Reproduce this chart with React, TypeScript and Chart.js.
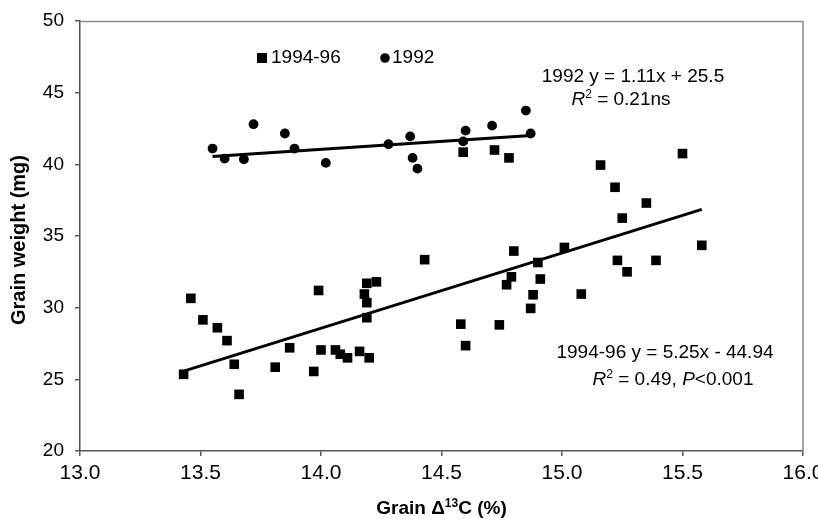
import React, { useEffect, useRef } from "react";
import { Chart, registerables } from "chart.js";

Chart.register(...registerables);

const FONT = "'Liberation Sans', Arial, sans-serif";

// 1992 (circles)
const x1992 = [13.55, 13.6, 13.68, 13.72, 13.85, 13.89, 14.02, 14.28, 14.37, 14.38, 14.4, 14.6, 14.59, 14.71, 14.85, 14.87];
const y1992 = [41.1, 40.4, 40.35, 42.8, 42.15, 41.1, 40.1, 41.4, 41.95, 40.45, 39.7, 42.35, 41.6, 42.7, 43.75, 42.15];

// 1994-96 (squares)
const x9496 = [13.43, 13.46, 13.51, 13.57, 13.61, 13.64, 13.66, 13.81, 13.87, 13.97, 13.99, 14.0, 14.06, 14.08, 14.11, 14.16, 14.18, 14.19, 14.19, 14.19, 14.2, 14.23, 14.43, 14.58, 14.6, 14.59, 14.72, 14.74, 14.77, 14.78, 14.79, 14.8, 14.87, 14.88, 14.9, 14.91, 15.01, 15.08, 15.16, 15.22, 15.23, 15.25, 15.27, 15.35, 15.39, 15.5, 15.58];
const y9496 = [25.35, 30.65, 29.15, 28.6, 27.7, 26.05, 23.95, 25.85, 27.2, 25.55, 31.2, 27.05, 27.05, 26.75, 26.5, 26.95, 30.95, 30.35, 29.3, 31.7, 26.5, 31.8, 33.35, 28.85, 27.35, 40.85, 41.0, 28.8, 31.6, 40.45, 32.15, 33.95, 29.95, 30.9, 33.15, 32.0, 34.2, 30.95, 39.95, 38.4, 33.3, 36.25, 32.5, 37.3, 33.3, 40.75, 34.35];

// fitted line end points
const trend1992X = [13.55, 14.87];
const trend1992Y = [40.54, 42.01];
const trend9496X = [13.43, 15.58];
const trend9496Y = [25.57, 36.86];

const xTicks = [13.0, 13.5, 14.0, 14.5, 15.0, 15.5, 16.0];
const yTicks = [20, 25, 30, 35, 40, 45, 50];

const legendLabels = ["1994-96", "1992"];

const zip = (xs: number[], ys: number[]) => xs.map((x, i) => ({ x, y: ys[i] }));

const FS = 19;

const textPlugin = {
  id: "textPlugin",
  afterDraw(chart: any) {
    const ctx = chart.ctx;
    const { left, top, right, bottom } = chart.chartArea;
    ctx.save();
    // frame top/right
    ctx.strokeStyle = "#8a8a8a";
    ctx.lineWidth = 1.5;
    ctx.beginPath();
    ctx.moveTo(left, top + 0.5);
    ctx.lineTo(right, top + 0.5);
    ctx.lineTo(right, bottom);
    ctx.stroke();

    ctx.fillStyle = "#000";
    ctx.textBaseline = "middle";
    // legend
    ctx.font = `${FS}px ${FONT}`;
    ctx.fillRect(257, 53, 10, 10);
    ctx.textAlign = "left";
    ctx.fillText(legendLabels[0], 271, 58);
    ctx.beginPath();
    ctx.arc(385, 58, 4.8, 0, Math.PI * 2);
    ctx.fill();
    ctx.fillText(legendLabels[1], 392, 58);

    const drawR = (cx: number, cy: number, rest: string, parts?: boolean) => {
      ctx.font = `italic ${FS}px ${FONT}`;
      const wR = ctx.measureText("R").width;
      ctx.font = `12px ${FONT}`;
      const w2 = ctx.measureText("2").width;
      let segs: { t: string; it: boolean }[] = [];
      if (parts) {
        const idx = rest.indexOf("P");
        segs = [
          { t: rest.slice(0, idx), it: false },
          { t: "P", it: true },
          { t: rest.slice(idx + 1), it: false },
        ];
      } else segs = [{ t: rest, it: false }];
      let wRest = 0;
      segs.forEach((s) => {
        ctx.font = `${s.it ? "italic " : ""}${FS}px ${FONT}`;
        wRest += ctx.measureText(s.t).width;
      });
      let x = cx - (wR + w2 + wRest) / 2;
      ctx.textAlign = "left";
      ctx.font = `italic ${FS}px ${FONT}`;
      ctx.fillText("R", x, cy);
      x += wR;
      ctx.font = `12px ${FONT}`;
      ctx.fillText("2", x, cy - 5);
      x += w2;
      segs.forEach((s) => {
        ctx.font = `${s.it ? "italic " : ""}${FS}px ${FONT}`;
        ctx.fillText(s.t, x, cy);
        x += ctx.measureText(s.t).width;
      });
    };

    ctx.font = `${FS}px ${FONT}`;
    ctx.textAlign = "center";
    ctx.fillText("1992 y = 1.11x + 25.5", 633, 77);
    drawR(621, 100, " = 0.21ns");

    ctx.font = `${FS}px ${FONT}`;
    ctx.textAlign = "center";
    ctx.fillText("1994-96 y = 5.25x - 44.94", 665, 353);
    drawR(673, 380, " = 0.49, P<0.001", true);

    // axis titles
    ctx.font = `bold 20px ${FONT}`;
    ctx.save();
    ctx.translate(19, (top + bottom) / 2 + 4);
    ctx.rotate(-Math.PI / 2);
    ctx.textAlign = "center";
    ctx.fillText("Grain weight (mg)", 0, 0);
    ctx.restore();

    const cxT = (left + right) / 2;
    const cyT = 509;
    const a = "Grain \u0394";
    const b = "13";
    const c = "C (%)";
    ctx.font = `bold 19px ${FONT}`;
    const wa = ctx.measureText(a).width;
    const wc = ctx.measureText(c).width;
    ctx.font = `bold 12px ${FONT}`;
    const wb = ctx.measureText(b).width;
    let x0 = cxT - (wa + wb + wc) / 2;
    ctx.textAlign = "left";
    ctx.font = `bold 19px ${FONT}`;
    ctx.fillText(a, x0, cyT);
    x0 += wa;
    ctx.font = `bold 12px ${FONT}`;
    ctx.fillText(b, x0, cyT - 5);
    x0 += wb;
    ctx.font = `bold 19px ${FONT}`;
    ctx.fillText(c, x0, cyT);
    ctx.restore();
  },
};

export default function App() {
  const ref = useRef<HTMLCanvasElement>(null);
  useEffect(() => {
    if (!ref.current) return;
    const chart = new Chart(ref.current, {
      type: "scatter",
      data: {
        datasets: [
          {
            label: "1994-96 fit",
            data: zip(trend9496X, trend9496Y),
            showLine: true,
            borderColor: "#000",
            borderWidth: 3,
            pointRadius: 0,
            order: 0,
          } as any,
          {
            label: "1992 fit",
            data: zip(trend1992X, trend1992Y),
            showLine: true,
            borderColor: "#000",
            borderWidth: 3,
            pointRadius: 0,
            order: 0,
          } as any,
          {
            label: legendLabels[0],
            data: zip(x9496, y9496),
            pointStyle: "rect",
            pointRadius: 6.8,
            backgroundColor: "#000",
            borderColor: "#000",
            borderWidth: 0,
            order: 1,
          },
          {
            label: legendLabels[1],
            data: zip(x1992, y1992),
            pointStyle: "circle",
            pointRadius: 4.9,
            backgroundColor: "#000",
            borderColor: "#000",
            borderWidth: 0,
            order: 1,
          },
        ],
      },
      options: {
        responsive: false,
        animation: false,
        layout: { padding: { top: 21, right: 15, bottom: 0, left: 0 } },
        plugins: { legend: { display: false }, tooltip: { enabled: false } },
        scales: {
          x: {
            type: "linear",
            min: 13,
            max: 16,
            afterBuildTicks: (s: any) => {
              s.ticks = xTicks.map((v) => ({ value: v }));
            },
            afterFit: (s: any) => {
              s.height = 72;
              s.paddingLeft = 0;
              s.paddingRight = 0;
            },
            grid: { drawOnChartArea: false, tickLength: 5, color: "#555", lineWidth: 1.5 },
            border: { color: "#555", width: 1.5 },
            ticks: {
              color: "#000",
              font: { family: FONT, size: 21 },
              padding: 5,
              maxRotation: 0,
              callback: (v: any) => Number(v).toFixed(1),
            },
          },
          y: {
            type: "linear",
            min: 20,
            max: 50,
            afterBuildTicks: (s: any) => {
              s.ticks = yTicks.map((v) => ({ value: v }));
            },
            afterFit: (s: any) => {
              s.width = 80;
              s.paddingTop = 0;
              s.paddingBottom = 0;
            },
            grid: { drawOnChartArea: false, tickLength: 5, color: "#555", lineWidth: 1.5 },
            border: { color: "#555", width: 1.5 },
            ticks: {
              color: "#000",
              font: { family: FONT, size: 19 },
              padding: 11,
              callback: (v: any) => String(v),
            },
          },
        },
      },
      plugins: [textPlugin],
    });
    return () => chart.destroy();
  }, []);
  return (
    <div style={{ position: "fixed", left: 0, top: 0, width: 818, height: 523, background: "#fff" }}>
      <canvas ref={ref} width={818} height={523} style={{ width: 818, height: 523, display: "block" }} />
    </div>
  );
}
